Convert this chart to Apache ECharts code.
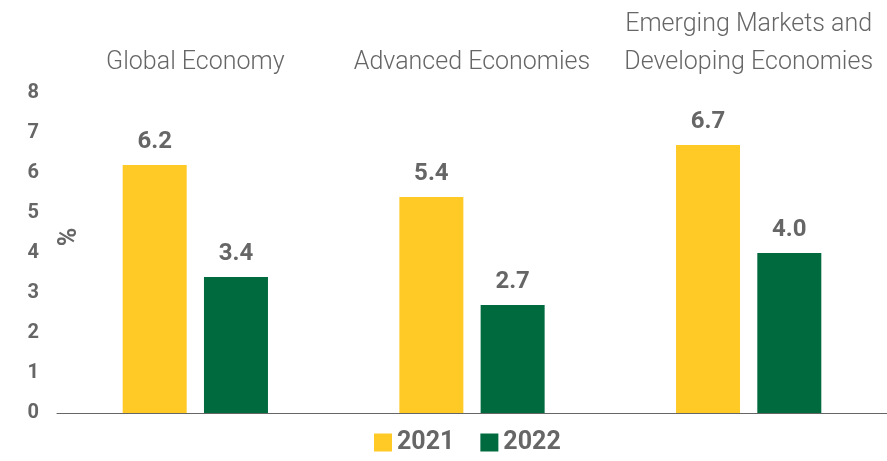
<!DOCTYPE html>
<html>
<head>
<meta charset="utf-8">
<script src="https://cdn.jsdelivr.net/npm/echarts@6/dist/echarts.min.js"></script>
<style>
  html, body { margin: 0; padding: 0; background: #fff; }
  #chart { width: 887px; height: 461px; }
</style>
</head>
<body>
<div id="chart"></div>
<script>
var categories = ["Global Economy", "Advanced Economies", "Emerging Markets and\nDeveloping Economies"];
var years = ["2021", "2022"];
var values2021 = [6.2, 5.4, 6.7];
var values2022 = [3.4, 2.7, 4.0];
var yTicks = [0, 1, 2, 3, 4, 5, 6, 7, 8];
var unitLabel = "%";

var myChart = echarts.init(document.getElementById("chart"));
var grey = "#666666";
var font = "Roboto";

var labelStyle = {
  show: true,
  position: "top",
  distance: 11,
  color: grey,
  fontFamily: font,
  fontWeight: "bold",
  fontSize: 24,
  formatter: function (p) { return p.value.toFixed(1); }
};

var option = {
  animation: false,
  grid: { left: 57, right: 0, top: 93, bottom: 48, outerBoundsMode: "none", containLabel: false },
  // unit label of the y axis, rotated like in the source
  graphic: [{
    type: "text",
    x: 70,
    y: 237,
    rotation: Math.PI / 2,
    style: {
      text: unitLabel,
      fill: grey,
      font: "bold 25px Roboto",
      align: "center",
      verticalAlign: "middle"
    }
  }],
  legend: {
    data: years,
    bottom: 1,
    left: 369,
    itemWidth: 18,
    itemHeight: 18,
    itemGap: 26,
    icon: "rect",
    textStyle: { color: grey, fontFamily: font, fontWeight: "bold", fontSize: 25 }
  },
  xAxis: [{
    type: "category",
    data: categories,
    position: "bottom",
    axisLine: { lineStyle: { color: "#666", width: 1 } },
    axisTick: { show: false },
    axisLabel: { show: false }
  }, {
    type: "category",
    data: categories,
    position: "top",
    axisLine: { show: false },
    axisTick: { show: false },
    axisLabel: {
      color: grey,
      fontFamily: font,
      fontWeight: 300,
      fontSize: 25,
      lineHeight: 38,
      verticalAlign: "bottom",
      margin: 11,
      interval: 0
    }
  }],
  yAxis: {
    type: "value",
    min: yTicks[0],
    max: yTicks[yTicks.length - 1],
    interval: 1,
    splitLine: { show: false },
    axisLine: { show: false },
    axisTick: { show: false },
    axisLabel: {
      color: grey,
      fontFamily: font,
      fontWeight: "bold",
      fontSize: 20,
      margin: 18
    }
  },
  series: [{
    name: years[0],
    type: "bar",
    data: values2021,
    barWidth: 64,
    barGap: "27%",
    itemStyle: { color: "#FFC926" },
    label: labelStyle
  }, {
    name: years[1],
    type: "bar",
    data: values2022,
    barWidth: 64,
    barGap: "27%",
    itemStyle: { color: "#006A3F" },
    label: labelStyle
  }]
};

myChart.setOption(option);
</script>
</body>
</html>
